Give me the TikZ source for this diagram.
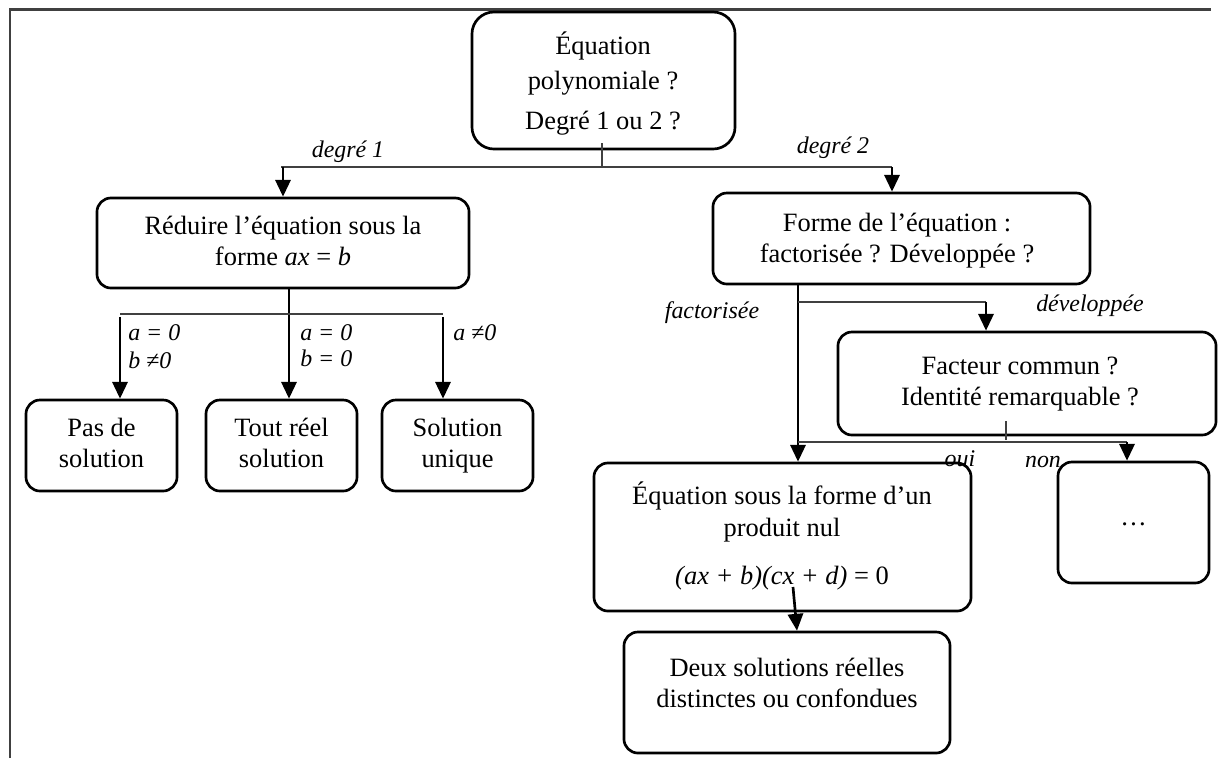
\documentclass[tikz,border=0pt]{standalone}
\usepackage{fontspec}
\setmainfont{Liberation Serif}
\usetikzlibrary{arrows.meta}
\begin{document}
\begin{tikzpicture}[x=0.025cm,y=-0.025cm,
  box/.style={draw,line width=1.9pt,rounded corners=0.35cm,inner sep=0pt},
  txt/.style={align=center,inner sep=0pt,font=\fontsize{18.8}{22.3}\selectfont,
    execute at begin node=\strut,execute at end node=\strut},
  lbl/.style={font=\fontsize{17}{20}\selectfont\itshape,inner sep=0pt},
  arr/.style={line width=1.9pt,-{Triangle[length=0.42cm,width=0.38cm]}},
  ln/.style={line width=1.1pt,draw=black!75},
  frame/.style={line width=1.5pt,draw=black!75}]
\useasboundingbox (0,0) rectangle (1221,758);
% frame
\coordinate (fa) at (10,758);
\coordinate (fb) at (10,9.5);
\coordinate (fc) at (1211,9.5);
\draw[frame] (fa) -- (fb) -- (fc);
% boxes
\node[box,rounded corners=0.55cm,minimum width=6.575cm,minimum height=3.425cm] (top) at (603.5,80.5) {};
\node[box,minimum width=9.3cm,minimum height=2.25cm] (red) at (283,243) {};
\node[box,minimum width=3.775cm,minimum height=2.275cm] (pas) at (101.5,445.5) {};
\node[box,minimum width=3.775cm,minimum height=2.275cm] (tout) at (281.5,445.5) {};
\node[box,minimum width=3.775cm,minimum height=2.275cm] (sol) at (457.5,445.5) {};
\node[box,minimum width=9.425cm,minimum height=2.275cm] (forme) at (901.5,238.5) {};
\node[box,minimum width=9.45cm,minimum height=2.575cm] (fact) at (1027,383.5) {};
\node[box,minimum width=9.425cm,minimum height=3.7cm] (prod) at (782.5,537) {};
\node[box,minimum width=3.775cm,minimum height=3.025cm] (dots) at (1133.5,522.5) {};
\node[box,minimum width=8.15cm,minimum height=3.025cm] (deux) at (787,692.5) {};
% texts
\node[txt,font=\fontsize{18.8}{24.8}\selectfont] (ttop) at (603,86)
  {Équation\\polynomiale ?\\[0.15cm]Degré 1 ou 2 ?};
\node[txt] (tred) at (283,245.5) {Réduire l’équation sous la\\forme \textit{ax} = \textit{b}};
\node[txt] (tpas) at (101.5,447.5) {Pas de\\solution};
\node[txt] (ttout) at (281.5,447.5) {Tout réel\\solution};
\node[txt] (tsol) at (457.5,447.5) {Solution\\unique};
\node[txt] (tforme) at (897,242.5) {Forme de l’équation :\\factorisée ? Développée ?};
\node[txt] (tfact) at (1020,386) {Facteur commun ?\\Identité remarquable ?};
\node[txt] (tprod) at (782,538) {Équation sous la forme d’un\\produit nul\\[0.42cm]\textit{(ax + b)(cx + d)} = 0};
\node[txt] (tdots) at (1133.5,519) {…};
\node[txt] (tdeux) at (787,687.5) {Deux solutions réelles\\distinctes ou confondues};
% connectors: top
\coordinate (j0) at (602,167);
\coordinate (hl) at (281,167);
\coordinate (hr) at (892,167);
\draw[ln] ([yshift=0.175cm]top.south -| j0) -- (j0);
\draw[ln] (hl) -- (hr);
\draw[arr] (red.north |- hl) -- (red.north);
\draw[arr] (hr) -- (hr |- forme.north);
% degree 1 branch
\coordinate (rx) at (289,0);
\coordinate (g1) at (120,314);
\coordinate (g2) at (443,314);
\draw[arr] (red.south -| rx) -- (tout.north -| rx);
\draw[ln] (g1) -- (g2);
\draw[arr] ([yshift=-0.07cm]g1) -- (g1 |- pas.north);
\draw[arr] ([yshift=-0.07cm]g2) -- (g2 |- sol.north);
% degree 2 branch
\coordinate (fx) at (798,0);
\coordinate (b1) at (798,302);
\coordinate (b2) at (986,302);
\draw[arr] (forme.south -| fx) -- (prod.north -| fx);
\draw[ln] (b1) -- (b2);
\draw[arr] (b2) -- (b2 |- fact.north);
\coordinate (s2) at (1006,440);
\coordinate (c1) at (798,442);
\coordinate (c2) at (1127,442);
\draw[ln] ([yshift=0.375cm]fact.south -| s2) -- (s2);
\draw[ln] (c1) -- (c2);
\draw[arr] (c2) -- (c2 |- dots.north);
\coordinate (p1) at (793,587);
\coordinate (p2) at (797,0);
\draw[arr] (p1) -- (deux.north -| p2);
% labels
\node[lbl] (l1) at (348,152) {degré 1};
\node[lbl] (l2) at (833,148) {degré 2};
\node[lbl] (l3) at (712,313) {factorisée};
\node[lbl] (l4) at (1090,306) {développée};
\node[lbl] (l5) at (960,459) {oui};
\node[lbl] (l6) at (1043,462) {non};
\node[lbl,anchor=west] (l7) at (128,333) {a = 0};
\node[lbl,anchor=west] (l8) at (128,360) {b ≠0};
\node[lbl,anchor=west] (l9) at (300,333) {a = 0};
\node[lbl,anchor=west] (l10) at (300,358) {b = 0};
\node[lbl,anchor=west] (l11) at (453,333) {a ≠0};
\end{tikzpicture}
\end{document}
